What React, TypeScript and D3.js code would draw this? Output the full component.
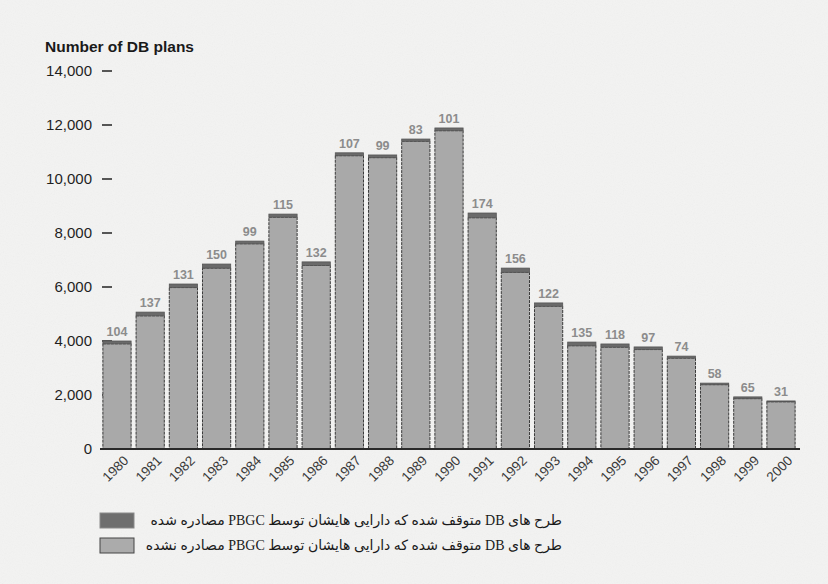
import { useMemo } from "react";
import * as d3 from "d3";

// Years on the x axis
const years = [
  "1980", "1981", "1982", "1983", "1984", "1985", "1986", "1987", "1988", "1989", "1990",
  "1991", "1992", "1993", "1994", "1995", "1996", "1997", "1998", "1999", "2000",
];

// Terminated plans whose assets were not trusteed by PBGC (light part)
const notTrusteed = [
  3896, 4933, 5979, 6700, 7601, 8585, 6798, 10863, 10791, 11397, 11789,
  8566, 6544, 5288, 3825, 3772, 3683, 3366, 2382, 1865, 1749,
];

// Terminated plans trusteed by PBGC (dark cap, also the label on top)
const trusteed = [
  104, 137, 131, 150, 99, 115, 132, 107, 99, 83, 101,
  174, 156, 122, 135, 118, 97, 74, 58, 65, 31,
];

const yTicks = [0, 2000, 4000, 6000, 8000, 10000, 12000, 14000];

const legendItems = [
  { label: "طرح های DB متوقف شده که دارایی هایشان توسط PBGC مصادره شده", fill: "#6e6e6e", stroke: "#8a8a8a" },
  { label: "طرح های DB متوقف شده که دارایی هایشان توسط PBGC مصادره نشده", fill: "#ababab", stroke: "#444" },
];

const W = 828;
const H = 584;
const SANS = "Arial, 'Liberation Sans', Helvetica, sans-serif";

export default function App() {
  const x = useMemo(
    () => d3.scaleBand<string>().domain(years).range([100.4, 797.6]).paddingInner(0.15).paddingOuter(0.075),
    []
  );
  const y = useMemo(() => d3.scaleLinear().domain([0, 14000]).range([449, 71]), []);

  const rows = years.map((yr, i) => ({
    year: yr,
    light: notTrusteed[i],
    dark: trusteed[i],
    total: notTrusteed[i] + trusteed[i],
  }));

  const fmt = d3.format(",");

  return (
    <svg
      width={W}
      height={H}
      viewBox={`0 0 ${W} ${H}`}
      style={{ position: "absolute", left: 0, top: 0, display: "block" }}
    >
      <defs>
        <filter id="paper" x="0" y="0" width="100%" height="100%">
          <feTurbulence type="fractalNoise" baseFrequency="0.9" numOctaves="2" seed="3" result="n" />
          <feColorMatrix type="saturate" values="0" />
          <feComponentTransfer>
            <feFuncA type="linear" slope="0.07" />
          </feComponentTransfer>
        </filter>
      </defs>
      <rect width={W} height={H} fill="#f3f3f2" />
      <rect width={W} height={H} filter="url(#paper)" />

      {/* Title */}
      <text x={45} y={52} fontFamily={SANS} fontSize={15.5} fontWeight="bold" fill="#1a1a1a">
        Number of DB plans
      </text>

      {/* Y axis labels and dashes */}
      {yTicks.map((t) => (
        <g key={t}>
          <text
            x={92}
            y={y(t)}
            dy="0.36em"
            textAnchor="end"
            fontFamily={SANS}
            fontSize={15}
            fill="#1f1f1f"
          >
            {fmt(t)}
          </text>
          {t > 0 && <line x1={102} x2={112} y1={y(t)} y2={y(t)} stroke="#222" strokeWidth={1.5} />}
        </g>
      ))}

      {/* Bars */}
      {rows.map((d) => {
        const bx = x(d.year)!;
        const bw = x.bandwidth();
        return (
          <g key={d.year}>
            <rect
              x={bx}
              y={y(d.light)}
              width={bw}
              height={y(0) - y(d.light)}
              fill="#a9a9a9"
              stroke="#3a3a3a"
              strokeWidth={1}
              strokeDasharray="3,1"
            />
            <rect
              x={bx}
              y={y(d.total)}
              width={bw}
              height={y(d.light) - y(d.total)}
              fill="#6a6a6a"
              stroke="#555"
              strokeWidth={0.8}
            />
            <text
              x={bx + bw / 2}
              y={y(d.total) - 5}
              textAnchor="middle"
              fontFamily={SANS}
              fontSize={12.5}
              fontWeight="bold"
              fill="#8c8c8c"
            >
              {d.dark}
            </text>
          </g>
        );
      })}

      {/* Baseline */}
      <line x1={100} x2={800} y1={y(0)} y2={y(0)} stroke="#2a2a2a" strokeWidth={2} />

      {/* Year labels */}
      {years.map((yr) => {
        const cx = x(yr)! + x.bandwidth() / 2;
        return (
          <text
            key={yr}
            transform={`translate(${cx + 9},${y(0) + 9}) rotate(-45)`}
            textAnchor="end"
            dy="0.35em"
            fontFamily={SANS}
            fontSize={13.5}
            fill="#3a3a3a"
          >
            {yr}
          </text>
        );
      })}

      {/* Legend */}
      {legendItems.map((item, i) => (
        <g key={i} transform={`translate(0,${513 + i * 25})`}>
          <rect x={100} y={0} width={34} height={15} fill={item.fill} stroke={item.stroke} strokeWidth={1} />
          <text
            x={562}
            y={12}
            direction="rtl"
            style={{ direction: "rtl", unicodeBidi: "embed" }}
            textAnchor="start"
            fontFamily="'Liberation Serif', 'DejaVu Sans', serif"
            fontSize={14}
            fill="#1a1a1a"
          >
            {item.label}
          </text>
        </g>
      ))}
    </svg>
  );
}
